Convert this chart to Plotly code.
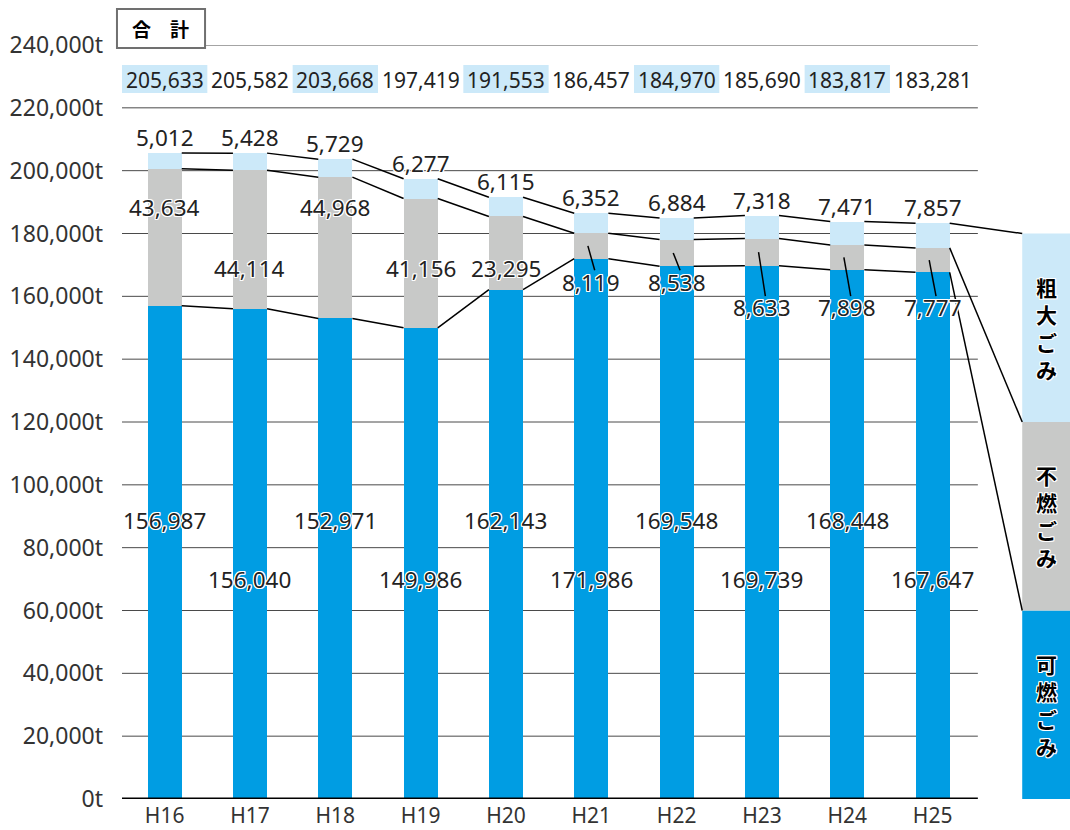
import plotly.graph_objects as go

# ---- data ----
years = ["H16", "H17", "H18", "H19", "H20", "H21", "H22", "H23", "H24", "H25"]
combustible = [156987, 156040, 152971, 149986, 162143, 171986, 169548, 169739, 168448, 167647]
noncombustible = [43634, 44114, 44968, 41156, 23295, 8119, 8538, 8633, 7898, 7777]
bulky = [5012, 5428, 5729, 6277, 6115, 6352, 6884, 7318, 7471, 7857]
totals = [205633, 205582, 203668, 197419, 191553, 186457, 184970, 185690, 183817, 183281]
y_ticks = list(range(0, 240001, 20000))
y_tick_text = [f"{v:,}t" for v in y_ticks]

# ---- styling / layout constants ----
C_BLUE = "#009de3"
C_GRAY = "#c8c9c8"
C_LIGHT = "#cce9f9"
FONT = "Noto Sans, Noto Sans CJK JP, sans-serif"
JFONT = "Noto Sans CJK JP, sans-serif"
TXT = "#222222"
HALO = "white 1px 1px 0px, white -1px -1px 0px, white 1px -1px 0px, white -1px 1px 0px, white 0px 1px 0px, white 0px -1px 0px, white 1px 0px 0px, white -1px 0px 0px"
LBL = 22.5
BAR_W = 0.4
X_MAX = 10.61
LEG_X0 = 10.05
comb_label_y = [88500, 70000] * 5
noncomb_label_y = [188400, 169000, 188400, 169000, 169000, 164500, 164500, 156300, 156300, 156300]
leader_from = 5  # indexes with leader lines
legend_blocks = [("可燃ごみ", 0, 60000, C_BLUE), ("不燃ごみ", 60000, 120000, C_GRAY), ("粗大ごみ", 120000, 180000, C_LIGHT)]

n = len(years)
xs = list(range(n))
top_comb = combustible
top_non = [a + b for a, b in zip(combustible, noncombustible)]
top_bulky = [a + b for a, b in zip(top_non, bulky)]

fig = go.Figure()
for vals, col, name in [(combustible, C_BLUE, "可燃ごみ"), (noncombustible, C_GRAY, "不燃ごみ"), (bulky, C_LIGHT, "粗大ごみ")]:
    fig.add_trace(go.Bar(x=xs, y=vals, width=BAR_W, marker=dict(color=col, line=dict(width=0)),
                         name=name, showlegend=False, hoverinfo="skip"))

# connector lines between bars and to legend blocks
for tops, end_y in [(top_bulky, 180000), (top_non, 120000), (top_comb, 60000)]:
    lx, ly = [], []
    for i in range(n - 1):
        lx += [i + BAR_W / 2, i + 1 - BAR_W / 2, None]
        ly += [tops[i], tops[i + 1], None]
    lx += [n - 1 + BAR_W / 2, LEG_X0]
    ly += [tops[-1], end_y]
    fig.add_trace(go.Scatter(x=lx, y=ly, mode="lines", line=dict(color="black", width=1.5),
                             showlegend=False, hoverinfo="skip", connectgaps=False))

shapes = []
# gridlines
for t in y_ticks[1:]:
    shapes.append(dict(type="line", xref="x", yref="y", x0=-0.5, x1=n - 0.5 + 0.03, y0=t, y1=t,
                       line=dict(color="#4a4a4a", width=1), layer="below"))
shapes.append(dict(type="line", xref="x", yref="y", x0=-0.5, x1=n - 0.5 + 0.03, y0=0, y1=0,
                   line=dict(color="black", width=3), layer="above"))
# total label backgrounds
for i in range(0, n, 2):
    shapes.append(dict(type="rect", xref="x", yref="y", x0=i - 0.5, x1=i + 0.5, y0=224700, y1=233600,
                       fillcolor=C_LIGHT, line=dict(width=0), layer="below"))
# legend blocks
for label, y0, y1, col in legend_blocks:
    shapes.append(dict(type="rect", xref="x", yref="y", x0=LEG_X0, x1=X_MAX + 0.2, y0=y0, y1=y1,
                       fillcolor=col, line=dict(width=0), layer="below"))
# leader lines for small non-combustible values
for i in range(leader_from, n):
    mid = combustible[i] + noncombustible[i] / 2
    shapes.append(dict(type="line", xref="x", yref="y", x0=i - 0.04, x1=i + 0.04, y0=mid, y1=noncomb_label_y[i] + 3800,
                       line=dict(color="black", width=1.5), layer="above"))
# title box
shapes.append(dict(type="rect", xref="paper", yref="paper", x0=-0.0053, x1=0.0876, y0=0.996, y1=1.0477,
                   fillcolor="white", line=dict(color="#707070", width=2), layer="above"))

ann = []
for i in range(n):
    ann.append(dict(x=i, y=228900, text=f"{totals[i]:,}", showarrow=False, xref="x", yref="y",
                    font=dict(family=FONT, size=21, color=TXT)))
    ann.append(dict(x=i, y=top_bulky[i], text=f"{bulky[i]:,}", showarrow=False, xref="x", yref="y",
                    yanchor="bottom", yshift=-2, font=dict(family=FONT, size=LBL, color=TXT, shadow=HALO)))
    ann.append(dict(x=i, y=noncomb_label_y[i], text=f"{noncombustible[i]:,}", showarrow=False, xref="x", yref="y",
                    font=dict(family=FONT, size=LBL, color=TXT, shadow=HALO)))
    ann.append(dict(x=i, y=comb_label_y[i], text=f"{combustible[i]:,}", showarrow=False, xref="x", yref="y",
                    font=dict(family=FONT, size=LBL, color=TXT, shadow=HALO)))
for label, y0, y1, col in legend_blocks:
    ann.append(dict(x=(LEG_X0 + X_MAX) / 2, y=(y0 + y1) / 2, text="<br>".join(label), showarrow=False,
                    xref="x", yref="y", xanchor="center", yanchor="middle",
                    font=dict(family=JFONT, size=21, color="black", weight="bold", shadow=HALO)))
ann.append(dict(x=0.0411, y=1.0218, xref="paper", yref="paper", text="合　計", showarrow=False,
                xanchor="center", yanchor="middle",
                font=dict(family=JFONT, size=19, color="black", weight="bold")))

fig.update_layout(
    width=1070, height=830,
    margin=dict(l=122, r=0, t=45, b=31),
    barmode="stack",
    plot_bgcolor="white", paper_bgcolor="white",
    shapes=shapes, annotations=ann,
    showlegend=False,
    xaxis=dict(range=[-0.5, X_MAX], tickvals=xs, ticktext=years, showgrid=False, zeroline=False,
               showline=False, ticks="", ticklabelstandoff=2, automargin=False,
               tickfont=dict(family=FONT, size=21, color="#333333")),
    yaxis=dict(range=[0, 240000], tickvals=y_ticks, ticktext=y_tick_text, showgrid=False,
               zeroline=False, showline=False, ticks="", ticklabelstandoff=18, automargin=False,
               tickfont=dict(family=FONT, size=23, color="#333333")),
)

fig.write_html("out.html", config={"displayModeBar": False},
               post_script="document.body.style.margin='0';document.body.style.overflow='hidden';")
